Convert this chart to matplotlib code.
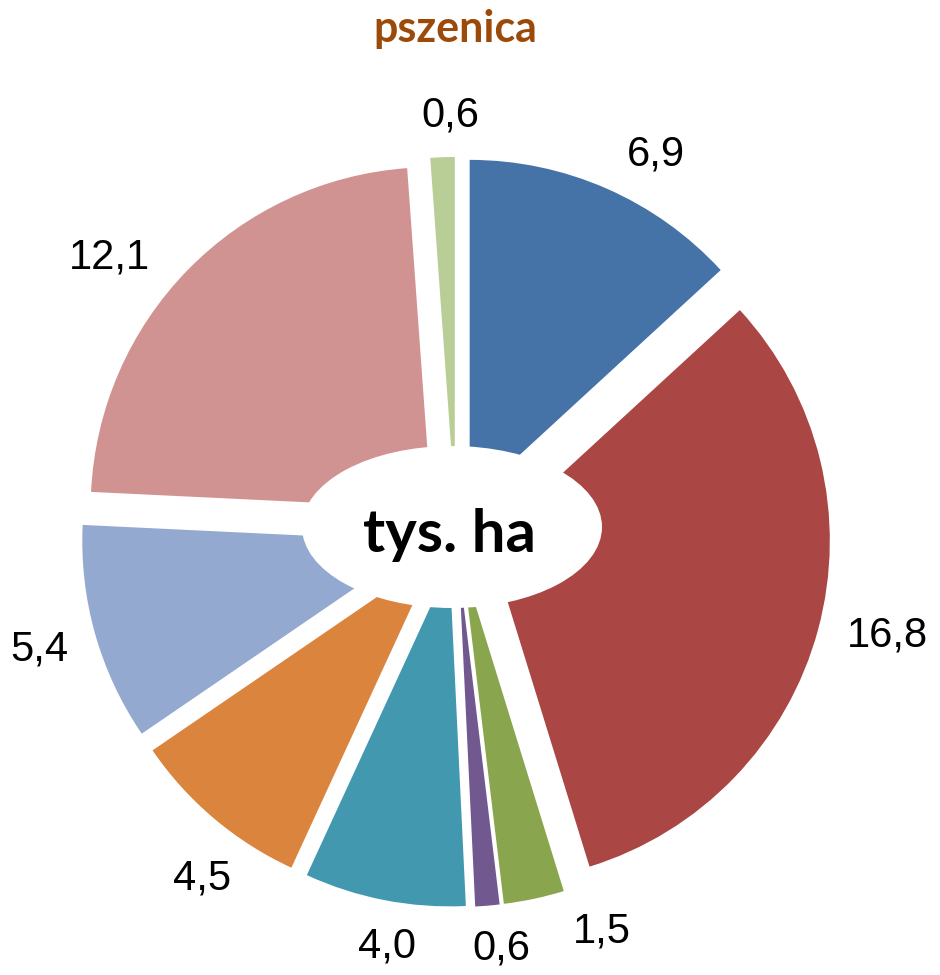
import numpy as np
import matplotlib
matplotlib.use("Agg")
import matplotlib.pyplot as plt
from matplotlib.patches import Ellipse

# ---- data ----
title = "pszenica"
center_label = "tys. ha"
values = [6.9, 16.8, 1.5, 0.6, 4.0, 4.5, 5.4, 12.1, 0.6]
value_labels = ["6,9", "16,8", "1,5", "0,6", "4,0", "4,5", "5,4", "12,1", "0,6"]
colors = ["#4572A7", "#AA4643", "#89A54E", "#71588F", "#4198AF",
          "#DB843D", "#93A9CF", "#D19392", "#B9CD96"]

# layout: small angular nudges (degrees) of the outside labels
label_nudge = [-4.6, 1.8, 8.7, 1.5, 1.7, 4.3, 0.0, 6.4, -1.4]

W, H = 940, 975
fig = plt.figure(figsize=(W / 100, H / 100), dpi=100)
ax = fig.add_axes([0, 0, 1, 1])

cx, cy = 456, H - 532
R = 341
expl = 34

ax.pie(values, colors=colors, startangle=90, counterclock=False,
       radius=R, center=(cx, cy), explode=[expl] * len(values),
       wedgeprops=dict(linewidth=0))

ax.set_xlim(0, W)
ax.set_ylim(0, H)
ax.set_aspect("equal")
ax.axis("off")

# centre hole
ax.add_patch(Ellipse((452, H - 527), 300, 162, facecolor="white",
                     edgecolor="none", zorder=5))
ax.text(449, H - 552, center_label, ha="center", va="baseline",
        fontsize=43, fontweight="bold", family=["Lato", "DejaVu Sans"],
        color="black", zorder=6)

# data labels outside end
fs = 30
em = fs * 100 / 72
total = sum(values)
pad = 26
margin = 8

mids = []
theta = 90.0
for v in values:
    span = v / total * 360
    mids.append(theta - span / 2)
    theta -= span


def place(i, ang):
    lab = value_labels[i]
    a = np.deg2rad(ang)
    c, s = np.cos(a), np.sin(a)
    m = np.deg2rad(mids[i])
    wx, wy = cx + expl * np.cos(m), cy + expl * np.sin(m)
    nd = sum(ch.isdigit() for ch in lab)
    hw = (nd * 0.556 + 0.278) * em / 2
    hh = 0.716 * em / 2
    d = R + pad + abs(c) * hw + abs(s) * hh
    return wx + d * c, wy + d * s, hw, hh


placed = []
for i in reversed(range(len(values))):
    ang = mids[i] + label_nudge[i]
    for _ in range(200):
        x, y, hw, hh = place(i, ang)
        clash = any(abs(x - px) < hw + phw + 2 * margin and
                    abs(y - py) < hh + phh + 2 * margin
                    for px, py, phw, phh in placed)
        if not clash:
            break
        ang += 0.5
    placed.append((x, y, hw, hh))
    ax.text(x, y, value_labels[i], ha="center", va="center",
            fontsize=fs, family=["Liberation Sans", "DejaVu Sans"],
            color="black")

fig.text(455 / W, 1 - 42 / H, title, ha="center", va="baseline",
         fontsize=31, fontweight="bold", color="#9C4A0A",
         family=["Lato", "DejaVu Sans"])

fig.savefig("out.png", dpi=100)
